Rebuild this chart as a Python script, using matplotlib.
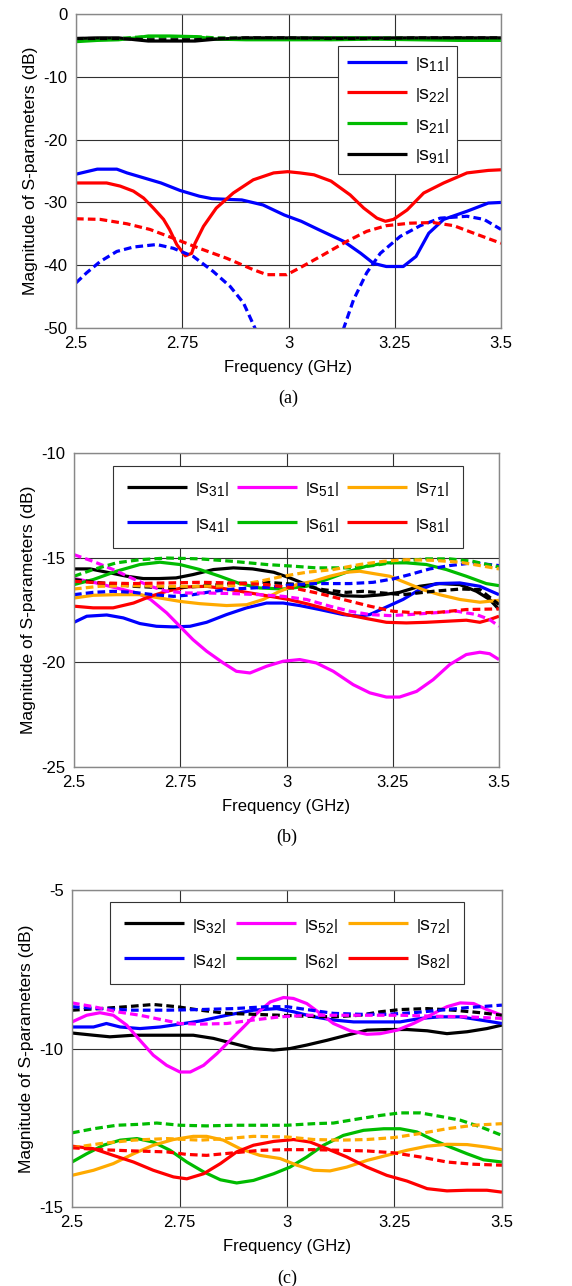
import matplotlib
matplotlib.use("Agg")
import matplotlib.pyplot as plt

plt.rcParams["font.family"] = ["Liberation Sans", "DejaVu Sans"]
plt.rcParams["axes.unicode_minus"] = False
plt.rcParams["mathtext.fontset"] = "custom"
plt.rcParams["mathtext.rm"] = "Liberation Sans"
plt.rcParams["mathtext.it"] = "Liberation Sans"
plt.rcParams["mathtext.bf"] = "Liberation Sans:bold"

# ---- DATA : panel (a) ----
a_s11_x = [2.5, 2.55, 2.596, 2.62, 2.66, 2.70, 2.745, 2.79, 2.82, 2.89, 2.94, 2.99, 3.03, 3.07,
           3.13, 3.17, 3.20, 3.23, 3.27, 3.30, 3.33, 3.365, 3.42, 3.47, 3.5]
a_s11_y = [-25.5, -24.7, -24.7, -25.3, -26.1, -26.9, -28.1, -29.0, -29.4, -29.6, -30.4, -32.0, -33.0, -34.3,
           -36.2, -38.1, -39.7, -40.2, -40.2, -38.6, -34.9, -32.7, -31.4, -30.1, -30.0]
a_s11d_x = [2.5, 2.525, 2.557, 2.596, 2.635, 2.69, 2.729, 2.776, 2.823, 2.863, 2.894, 2.921, 2.94,
            3.0, 3.05, 3.11, 3.13, 3.153, 3.184, 3.216, 3.263, 3.31, 3.357, 3.42, 3.46, 3.5]
a_s11d_y = [-42.8, -41.2, -39.4, -37.8, -37.1, -36.7, -37.3, -38.6, -41.0, -43.4, -46.0, -50.0, -53.0,
            -60.0, -60.0, -54.0, -50.0, -45.5, -41.2, -38.1, -35.4, -33.7, -32.5, -32.2, -32.7, -34.3]
a_s22_x = [2.5, 2.572, 2.604, 2.635, 2.659, 2.682, 2.706, 2.72, 2.737, 2.757, 2.772, 2.78, 2.80, 2.83,
           2.87, 2.917, 2.965, 2.998, 3.027, 3.06, 3.10, 3.145, 3.177, 3.208, 3.228, 3.247, 3.279,
           3.318, 3.365, 3.42, 3.47, 3.5]
a_s22_y = [-26.9, -26.9, -27.4, -28.2, -29.3, -30.9, -32.7, -34.3, -36.7, -38.5, -38.1, -36.5, -33.8, -30.9,
           -28.5, -26.4, -25.3, -25.1, -25.3, -25.6, -26.6, -28.8, -30.9, -32.5, -33.0, -32.7, -31.2,
           -28.5, -26.9, -25.3, -24.9, -24.8]
a_s22d_x = [2.5, 2.557, 2.62, 2.674, 2.729, 2.79, 2.855, 2.917, 2.949, 2.996, 3.027, 3.075, 3.137,
            3.184, 3.23, 3.286, 3.34, 3.389, 3.436, 3.5]
a_s22d_y = [-32.6, -32.7, -33.4, -34.3, -35.7, -37.3, -38.9, -40.7, -41.5, -41.5, -40.4, -38.6, -36.2,
            -34.6, -33.7, -33.3, -33.2, -33.7, -34.9, -36.5]
a_flat_x = [2.5, 2.55, 2.6, 2.64, 2.67, 2.72, 2.78, 2.83, 2.9, 3.0, 3.1, 3.2, 3.3, 3.4, 3.5]
a_s21_y = [-4.4, -4.2, -4.1, -3.8, -3.5, -3.5, -3.6, -4.0, -4.1, -4.1, -4.1, -4.0, -4.1, -4.2, -4.2]
a_s21d_y = [-4.1, -4.0, -3.9, -3.7, -3.6, -3.6, -3.6, -3.8, -3.9, -3.9, -3.8, -3.8, -3.9, -4.0, -4.0]
a_s91_y = [-3.9, -3.8, -3.8, -4.1, -4.3, -4.3, -4.3, -4.0, -3.8, -3.8, -3.8, -3.8, -3.8, -3.8, -3.8]
a_s91d_y = [-3.9, -3.9, -3.9, -4.0, -4.1, -4.1, -4.1, -3.9, -3.8, -3.8, -3.9, -3.9, -3.8, -3.8, -3.8]

# ---- DATA : panel (b) ----
b_s31_x = [2.5, 2.538, 2.585, 2.624, 2.663, 2.70, 2.74, 2.78, 2.828, 2.875, 2.92, 2.97, 3.008, 3.047,
           3.086, 3.133, 3.18, 3.227, 3.266, 3.313, 3.36, 3.408, 3.447, 3.478, 3.5]
b_s31_y = [-15.54, -15.54, -15.73, -15.89, -16.0, -16.0, -15.97, -15.81, -15.57, -15.49, -15.54, -15.70,
           -15.97, -16.29, -16.61, -16.82, -16.85, -16.77, -16.66, -16.37, -16.24, -16.29, -16.61, -17.0, -17.48]
b_s31d_x = [2.5, 2.56, 2.64, 2.718, 2.796, 2.875, 2.953, 3.031, 3.086, 3.141, 3.18, 3.227, 3.274, 3.345,
            3.41, 3.455, 3.5]
b_s31d_y = [-16.05, -16.2, -16.37, -16.45, -16.37, -16.24, -16.18, -16.29, -16.53, -16.66, -16.61, -16.69,
            -16.77, -16.61, -16.5, -16.53, -17.24]
b_s41_x = [2.5, 2.53, 2.577, 2.616, 2.655, 2.694, 2.734, 2.773, 2.812, 2.859, 2.906, 2.953, 2.992, 3.031,
           3.078, 3.133, 3.172, 3.196, 3.235, 3.274, 3.313, 3.353, 3.408, 3.455, 3.5]
b_s41_y = [-18.09, -17.8, -17.74, -17.88, -18.15, -18.28, -18.31, -18.28, -18.09, -17.72, -17.40, -17.17,
           -17.17, -17.29, -17.48, -17.72, -17.80, -17.72, -17.36, -17.0, -16.53, -16.24, -16.21, -16.37, -16.77]
b_s41d_x = [2.5, 2.545, 2.592, 2.64, 2.687, 2.734, 2.78, 2.828, 2.875, 2.92, 2.97, 3.016, 3.07, 3.149,
            3.204, 3.25, 3.29, 3.337, 3.384, 3.439, 3.5]
b_s41d_y = [-16.77, -16.66, -16.61, -16.66, -16.77, -16.85, -16.77, -16.61, -16.5, -16.45, -16.4, -16.29,
            -16.24, -16.24, -16.18, -16.02, -15.81, -15.54, -15.38, -15.25, -15.38]
b_s51_x = [2.5, 2.55, 2.6, 2.65, 2.68, 2.718, 2.749, 2.78, 2.812, 2.851, 2.882, 2.914, 2.953, 2.992,
           3.031, 3.07, 3.11, 3.157, 3.196, 3.235, 3.266, 3.306, 3.345, 3.384, 3.423, 3.455, 3.478, 3.5]
b_s51_y = [-16.0, -16.2, -16.45, -16.7, -17.0, -17.64, -18.28, -18.92, -19.47, -20.03, -20.43, -20.51,
           -20.19, -19.95, -19.87, -20.03, -20.43, -21.07, -21.46, -21.66, -21.66, -21.39, -20.83, -20.11,
           -19.63, -19.52, -19.59, -19.87]
b_s51d_x = [2.5, 2.545, 2.592, 2.64, 2.68, 2.718, 2.765, 2.812, 2.875, 2.937, 2.992, 3.047, 3.102, 3.149,
            3.196, 3.243, 3.29, 3.345, 3.4, 3.447, 3.478, 3.5]
b_s51d_y = [-14.86, -15.18, -15.57, -16.02, -16.37, -16.61, -16.69, -16.69, -16.72, -16.77, -16.85, -17.0,
            -17.32, -17.56, -17.72, -17.77, -17.72, -17.64, -17.56, -17.72, -17.96, -18.28]
b_s61_x = [2.5, 2.545, 2.6, 2.655, 2.702, 2.749, 2.796, 2.843, 2.89, 2.937, 2.992, 3.047, 3.094, 3.141,
           3.188, 3.235, 3.282, 3.329, 3.376, 3.423, 3.47, 3.5]
b_s61_y = [-16.29, -16.05, -15.65, -15.33, -15.22, -15.33, -15.57, -15.89, -16.24, -16.45, -16.5, -16.37,
           -16.05, -15.7, -15.41, -15.25, -15.25, -15.33, -15.57, -15.89, -16.24, -16.34]
b_s61d_x = [2.5, 2.545, 2.6, 2.655, 2.718, 2.796, 2.875, 2.953, 3.016, 3.07, 3.149, 3.204, 3.266, 3.329,
            3.384, 3.439, 3.5]
b_s61d_y = [-15.89, -15.57, -15.25, -15.1, -15.02, -15.06, -15.18, -15.33, -15.41, -15.49, -15.49, -15.38,
            -15.18, -15.06, -15.06, -15.18, -15.45]
b_s71_x = [2.5, 2.545, 2.6, 2.655, 2.702, 2.749, 2.796, 2.859, 2.906, 2.945, 2.984, 3.024, 3.063, 3.102,
           3.141, 3.172, 3.204, 3.243, 3.282, 3.321, 3.36, 3.408, 3.455, 3.5]
b_s71_y = [-16.93, -16.8, -16.77, -16.77, -16.93, -17.09, -17.2, -17.29, -17.25, -17.0, -16.61, -16.29,
           -16.13, -15.89, -15.7, -15.65, -15.76, -15.89, -16.21, -16.53, -16.77, -17.0, -17.13, -17.04]
b_s71d_x = [2.5, 2.56, 2.64, 2.718, 2.796, 2.875, 2.937, 2.992, 3.047, 3.11, 3.172, 3.227, 3.282, 3.345,
            3.408, 3.455, 3.5]
b_s71d_y = [-16.5, -16.37, -16.34, -16.37, -16.37, -16.34, -16.13, -15.89, -15.7, -15.57, -15.33, -15.18,
            -15.1, -15.13, -15.22, -15.38, -15.54]
b_s81_x = [2.5, 2.545, 2.592, 2.64, 2.68, 2.718, 2.765, 2.812, 2.859, 2.906, 2.953, 3.0, 3.047, 3.094,
           3.141, 3.188, 3.235, 3.282, 3.329, 3.376, 3.423, 3.455, 3.478, 3.5]
b_s81_y = [-17.32, -17.4, -17.4, -17.17, -16.85, -16.61, -16.4, -16.37, -16.5, -16.66, -16.82, -16.98,
           -17.2, -17.45, -17.72, -17.91, -18.09, -18.12, -18.09, -18.04, -17.99, -18.09, -17.96, -17.8]
b_s81d_x = [2.5, 2.56, 2.64, 2.718, 2.796, 2.875, 2.953, 3.016, 3.078, 3.141, 3.196, 3.25, 3.306, 3.36,
            3.423, 3.5]
b_s81d_y = [-16.13, -16.21, -16.24, -16.21, -16.18, -16.21, -16.29, -16.45, -16.72, -17.04, -17.32, -17.56,
            -17.64, -17.61, -17.48, -17.45]

# ---- DATA : panel (c) ----
c_s32_x = [2.5, 2.55, 2.588, 2.643, 2.72, 2.782, 2.829, 2.875, 2.922, 2.969, 3.007, 3.046, 3.093, 3.139,
           3.186, 3.232, 3.279, 3.326, 3.372, 3.419, 3.465, 3.5]
c_s32_y = [-9.51, -9.58, -9.63, -9.58, -9.58, -9.58, -9.68, -9.84, -10.0, -10.05, -10.0, -9.89, -9.74,
           -9.58, -9.42, -9.4, -9.4, -9.44, -9.53, -9.47, -9.37, -9.26]
c_s32d_x = [2.5, 2.565, 2.627, 2.689, 2.744, 2.798, 2.86, 2.922, 2.984, 3.046, 3.108, 3.17, 3.217, 3.263,
            3.326, 3.388, 3.45, 3.5]
c_s32d_y = [-8.79, -8.74, -8.68, -8.61, -8.68, -8.79, -8.89, -8.92, -8.95, -8.98, -9.0, -8.95, -8.84,
            -8.77, -8.74, -8.79, -8.87, -8.95]
c_s42_x = [2.5, 2.55, 2.58, 2.612, 2.658, 2.705, 2.751, 2.798, 2.86, 2.922, 2.976, 3.015, 3.062, 3.108,
           3.155, 3.217, 3.263, 3.31, 3.356, 3.403, 3.45, 3.5]
c_s42_y = [-9.32, -9.32, -9.21, -9.32, -9.37, -9.32, -9.23, -9.13, -8.95, -8.79, -8.74, -8.84, -9.0, -9.1,
           -9.16, -9.16, -9.16, -9.05, -9.0, -9.0, -9.1, -9.21]
c_s42d_x = [2.5, 2.565, 2.643, 2.72, 2.798, 2.876, 2.953, 3.0, 3.046, 3.108, 3.17, 3.232, 3.294, 3.356,
            3.419, 3.5]
c_s42d_y = [-8.68, -8.74, -8.79, -8.79, -8.77, -8.74, -8.68, -8.68, -8.77, -8.89, -8.92, -8.92, -8.87,
            -8.79, -8.71, -8.63]
c_s52_x = [2.5, 2.534, 2.565, 2.596, 2.627, 2.658, 2.689, 2.72, 2.751, 2.775, 2.806, 2.837, 2.868, 2.899,
           2.93, 2.961, 2.992, 3.015, 3.046, 3.077, 3.108, 3.147, 3.186, 3.217, 3.256, 3.294, 3.333,
           3.372, 3.403, 3.434, 3.465, 3.5]
c_s52_y = [-9.16, -8.95, -8.87, -8.95, -9.26, -9.74, -10.21, -10.53, -10.74, -10.74, -10.53, -10.16,
           -9.74, -9.32, -8.89, -8.53, -8.39, -8.42, -8.58, -8.89, -9.21, -9.44, -9.55, -9.53, -9.42,
           -9.21, -8.95, -8.68, -8.56, -8.58, -8.77, -8.95]
c_s52d_x = [2.5, 2.55, 2.604, 2.658, 2.705, 2.751, 2.798, 2.86, 2.922, 2.984, 3.046, 3.108, 3.186, 3.263,
            3.341, 3.419, 3.5]
c_s52d_y = [-8.56, -8.68, -8.84, -8.95, -9.08, -9.21, -9.23, -9.21, -9.1, -9.0, -8.95, -8.95, -8.95,
            -8.95, -8.98, -9.0, -9.05]
c_s62_x = [2.5, 2.534, 2.573, 2.612, 2.651, 2.689, 2.728, 2.767, 2.806, 2.845, 2.883, 2.922, 2.969, 3.007,
           3.046, 3.085, 3.131, 3.178, 3.225, 3.263, 3.302, 3.341, 3.38, 3.419, 3.457, 3.5]
c_s62_y = [-13.58, -13.32, -13.05, -12.89, -12.84, -12.95, -13.21, -13.58, -13.89, -14.14, -14.24, -14.16,
           -13.95, -13.74, -13.42, -13.05, -12.74, -12.58, -12.53, -12.53, -12.63, -12.89, -13.11, -13.32,
           -13.51, -13.58]
c_s62d_x = [2.5, 2.55, 2.604, 2.658, 2.697, 2.751, 2.813, 2.876, 2.938, 3.0, 3.062, 3.108, 3.17, 3.217,
            3.263, 3.31, 3.356, 3.403, 3.45, 3.5]
c_s62d_y = [-12.66, -12.53, -12.42, -12.39, -12.35, -12.42, -12.44, -12.42, -12.42, -12.42, -12.37, -12.35,
            -12.21, -12.11, -12.03, -12.03, -12.14, -12.26, -12.47, -12.74]
c_s72_x = [2.5, 2.55, 2.596, 2.643, 2.689, 2.736, 2.782, 2.813, 2.852, 2.891, 2.937, 2.984, 3.023, 3.062,
           3.1, 3.139, 3.186, 3.232, 3.279, 3.326, 3.372, 3.419, 3.465, 3.5]
c_s72_y = [-14.0, -13.84, -13.63, -13.32, -13.05, -12.87, -12.77, -12.77, -12.89, -13.16, -13.37, -13.47,
           -13.68, -13.84, -13.86, -13.74, -13.53, -13.37, -13.21, -13.08, -13.02, -13.03, -13.11, -13.19]
c_s72d_x = [2.5, 2.565, 2.643, 2.72, 2.798, 2.86, 2.922, 3.0, 3.062, 3.124, 3.186, 3.248, 3.31, 3.372,
            3.434, 3.5]
c_s72d_y = [-13.13, -13.0, -12.89, -12.84, -12.89, -12.84, -12.77, -12.79, -12.87, -12.89, -12.87, -12.81,
            -12.68, -12.53, -12.42, -12.37]
c_s82_x = [2.5, 2.55, 2.596, 2.643, 2.689, 2.736, 2.767, 2.806, 2.845, 2.883, 2.922, 2.969, 3.015, 3.054,
           3.093, 3.139, 3.186, 3.232, 3.279, 3.326, 3.372, 3.419, 3.465, 3.5]
c_s82_y = [-13.08, -13.16, -13.37, -13.58, -13.84, -14.05, -14.11, -13.95, -13.63, -13.26, -13.05, -12.93,
           -12.87, -12.95, -13.16, -13.42, -13.74, -14.0, -14.18, -14.42, -14.49, -14.47, -14.47, -14.53]
c_s82d_x = [2.5, 2.565, 2.643, 2.72, 2.767, 2.813, 2.876, 2.938, 3.0, 3.062, 3.124, 3.186, 3.248, 3.31,
            3.372, 3.434, 3.5]
c_s82d_y = [-13.13, -13.19, -13.23, -13.26, -13.34, -13.37, -13.29, -13.21, -13.19, -13.19, -13.21, -13.23,
            -13.29, -13.42, -13.58, -13.65, -13.68]

x_ticks = [2.5, 2.75, 3.0, 3.25, 3.5]
x_ticklabels = ["2.5", "2.75", "3", "3.25", "3.5"]

BLUE, RED, GREEN, BLACK = "#0000ff", "#ff0000", "#00bb00", "#000000"
MAGENTA, ORANGE = "#ff00ff", "#ffaa00"
LW = 2.3
DASH = (2.4, 1.3)

fig = plt.figure(figsize=(5.72, 12.86), dpi=100)
ax_a = fig.add_axes([0.1329, 0.7449, 0.743, 0.2442])
ax_b = fig.add_axes([0.1294, 0.4036, 0.743, 0.2442])
ax_c = fig.add_axes([0.1259, 0.0614, 0.7517, 0.2465])


def lab(n):
    return r"$\left|\mathrm{s}_{%s}\right|$" % n


def style(ax, yticks, tag):
    ax.set_xlim(2.5, 3.5)
    ax.set_ylim(yticks[0], yticks[-1])
    ax.set_xticks(x_ticks)
    ax.set_xticklabels(x_ticklabels)
    ax.set_yticks(yticks)
    ax.tick_params(length=0, labelsize=12, pad=6)
    ax.grid(True, color="#303030", lw=0.8)
    ax.set_axisbelow(True)
    for s in ax.spines.values():
        s.set_color("#888888")
        s.set_linewidth(1.0)
    ax.set_xlabel("Frequency (GHz)", fontsize=12, labelpad=6)
    ax.set_ylabel("Magnitude of S-parameters (dB)", fontsize=12.5, labelpad=4)
    ax.text(0.5, -0.225, tag, transform=ax.transAxes, ha="center", va="center",
            fontsize=13, family="Liberation Serif")


def solid(ax, x, y, c, label):
    ax.plot(x, y, color=c, lw=LW, label=label, solid_capstyle="butt")


def dashed(ax, x, y, c):
    ax.plot(x, y, color=c, lw=LW, dashes=DASH, label="_nolegend_")


def legend(ax, anchor, ncol, mode=None, spacing=0.3, pad=0.45):
    leg = ax.legend(loc="upper left", bbox_to_anchor=anchor, mode=mode, ncol=ncol,
                    borderaxespad=0, fontsize=14, handlelength=3.1, handletextpad=0.4,
                    labelspacing=spacing, borderpad=pad, columnspacing=0.8,
                    fancybox=False, framealpha=1, edgecolor="#333333")
    leg.get_frame().set_linewidth(0.8)


# Chart (a)
solid(ax_a, a_s11_x, a_s11_y, BLUE, lab("11"))
solid(ax_a, a_s22_x, a_s22_y, RED, lab("22"))
solid(ax_a, a_flat_x, a_s21_y, GREEN, lab("21"))
solid(ax_a, a_flat_x, a_s91_y, BLACK, lab("91"))
dashed(ax_a, a_s11d_x, a_s11d_y, BLUE)
dashed(ax_a, a_s22d_x, a_s22d_y, RED)
dashed(ax_a, a_flat_x, a_s21d_y, GREEN)
dashed(ax_a, a_flat_x, a_s91d_y, BLACK)
style(ax_a, [-50, -40, -30, -20, -10, 0], "(a)")
legend(ax_a, (0.616, 0.898), 1, spacing=0.62)

# Chart (b)
solid(ax_b, b_s31_x, b_s31_y, BLACK, lab("31"))
solid(ax_b, b_s41_x, b_s41_y, BLUE, lab("41"))
solid(ax_b, b_s51_x, b_s51_y, MAGENTA, lab("51"))
solid(ax_b, b_s61_x, b_s61_y, GREEN, lab("61"))
solid(ax_b, b_s71_x, b_s71_y, ORANGE, lab("71"))
solid(ax_b, b_s81_x, b_s81_y, RED, lab("81"))
dashed(ax_b, b_s31d_x, b_s31d_y, BLACK)
dashed(ax_b, b_s41d_x, b_s41d_y, BLUE)
dashed(ax_b, b_s51d_x, b_s51d_y, MAGENTA)
dashed(ax_b, b_s61d_x, b_s61d_y, GREEN)
dashed(ax_b, b_s71d_x, b_s71d_y, ORANGE)
dashed(ax_b, b_s81d_x, b_s81d_y, RED)
style(ax_b, [-25, -20, -15, -10], "(b)")
legend(ax_b, (0.092, 0.707, 0.823, 0.252), 3, "expand", spacing=0.85, pad=0.72)

# Chart (c)
solid(ax_c, c_s32_x, c_s32_y, BLACK, lab("32"))
solid(ax_c, c_s42_x, c_s42_y, BLUE, lab("42"))
solid(ax_c, c_s52_x, c_s52_y, MAGENTA, lab("52"))
solid(ax_c, c_s62_x, c_s62_y, GREEN, lab("62"))
solid(ax_c, c_s72_x, c_s72_y, ORANGE, lab("72"))
solid(ax_c, c_s82_x, c_s82_y, RED, lab("82"))
dashed(ax_c, c_s32d_x, c_s32d_y, BLACK)
dashed(ax_c, c_s42d_x, c_s42d_y, BLUE)
dashed(ax_c, c_s52d_x, c_s52d_y, MAGENTA)
dashed(ax_c, c_s62d_x, c_s62d_y, GREEN)
dashed(ax_c, c_s72d_x, c_s72d_y, ORANGE)
dashed(ax_c, c_s82d_x, c_s82d_y, RED)
style(ax_c, [-15, -10, -5], "(c)")
legend(ax_c, (0.088, 0.71, 0.824, 0.252), 3, "expand", spacing=0.85, pad=0.72)

fig.savefig("out.png", dpi=100)
